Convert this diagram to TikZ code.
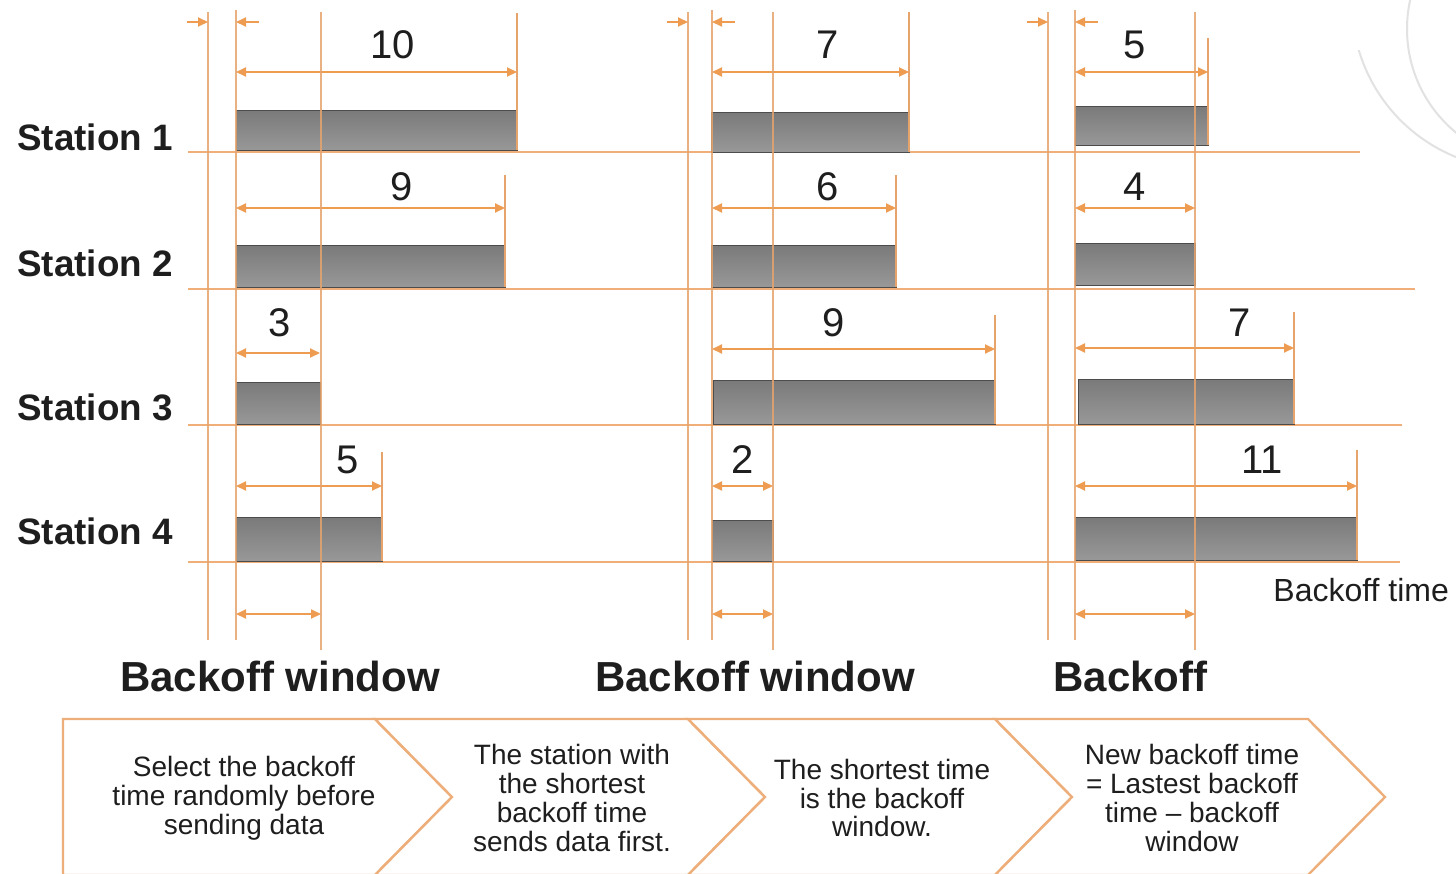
\documentclass[tikz,border=0pt]{standalone}
\usepackage{fontspec}
\setmainfont{Liberation Sans}
\usetikzlibrary{arrows.meta}
\definecolor{lineor}{HTML}{E6A36C}
\definecolor{hor}{HTML}{F0AE78}
\definecolor{dimor}{HTML}{EE9C52}
\definecolor{bartop}{HTML}{7A7A7A}
\definecolor{barbot}{HTML}{989898}
\definecolor{chevor}{HTML}{EDAE7A}
\definecolor{arcgray}{HTML}{E2E2E2}
\definecolor{txt}{HTML}{1E1E1E}
\tikzset{
  vline/.style={draw=lineor, line width=1.1pt},
  hline/.style={draw=hor, line width=1.1pt},
  dimarrow/.style={draw=dimor, line width=1pt, {Triangle[length=5pt,width=4.5pt]}-{Triangle[length=5pt,width=4.5pt]}},
  tinyarrow/.style={draw=dimor, line width=1pt, -{Triangle[length=5pt,width=4.5pt]}},
  databar/.style={top color=bartop, bottom color=barbot, draw=gray!60!black, line width=0.3pt},
  numlabel/.style={font=\fontsize{20}{24}\selectfont, inner sep=0pt, text=txt},
  stationlabel/.style={font=\fontsize{18.4}{22}\selectfont\bfseries, anchor=west, inner sep=0pt, text=txt},
  windowlabel/.style={font=\fontsize{21}{25}\selectfont\bfseries, inner sep=0pt, text=txt},
  timelabel/.style={font=\fontsize{16}{19}\selectfont, anchor=west, inner sep=0pt, text=txt},
  chevron/.style={draw=chevor, line width=1.2pt, fill=white},
  chevtext/.style={font=\fontsize{14}{14.4}\selectfont, align=center, inner sep=0pt, text=txt},
  faintarc/.style={draw=arcgray, line width=1pt},
}
\begin{document}
\begin{tikzpicture}[x=0.5pt,y=-0.5pt]
\useasboundingbox (0,0) rectangle (1456,873);
\clip (0,0) rectangle (1456,873);
\fill[white] (0,0) rectangle (1456,873);

% faint decorative arcs (top right)
\begin{scope}
  \clip (1340,50) rectangle (1456,873);
  \draw[faintarc] (1518,3) circle[radius=166];
\end{scope}
\begin{scope}
  \clip (1340,0) rectangle (1456,873);
  \draw[faintarc] (1541,29) circle[radius=134];
\end{scope}

% station time lines
\draw[hline] (188,152) -- (1360,152);
\draw[hline] (188,289) -- (1415,289);
\draw[hline] (188,425) -- (1402,425);
\draw[hline] (188,562) -- (1400,562);

% bars, extent lines, dimension arrows, numbers
% xa(bar start)/xs(arrow start)/xb(end)/ytop/ybot/yarrow/label/lx/ly/extent-top
\foreach \xa/\xs/\xb/\yt/\yb/\ya/\lab/\lx/\ly/\et [count=\i] in {
  236/236/517/110/150/72/10/393/45/13,
  711/712/909/112/152/72/7/828/45/12,
  1075/1075/1208/106/145/72/5/1135/45/38,
  236/236/505/245/287/208/9/402/187/175,
  711/712/896/245/287/208/6/828/187/175,
  1075/1075/1195/243/285/208/4/1135/187/0,
  236/236/320/382/424/353/3/280/323/0,
  713/712/995/380/424/349/9/834/323/315,
  1078/1075/1294/379/424/348/7/1240/323/312,
  236/236/382/517/561/486/5/348/460/452,
  712/712/773/520/561/486/2/743/460/0,
  1075/1075/1357/517/560/486/11/1262/460/450} {
  \path[databar] (\xa,\yt) rectangle (\xb,\yb);
  \ifnum\et>0 \draw[vline] (\xb,\et) -- (\xb,\yb); \fi
  \coordinate (as\i) at (\xs,\ya);
  \coordinate (ae\i) at (\xb,\ya);
  \draw[dimarrow] (as\i) -- (ae\i);
  \node[numlabel] (num\i) at (\lx,\ly) {\lab};
}

% group vertical lines, small top arrows, bottom window arrows
\foreach \ga/\gb/\gc [count=\j] in {208/236/321, 688/712/773, 1048/1075/1195} {
  \draw[vline, draw opacity=0.85] (\ga,12) -- (\ga,640);
  \draw[vline, draw opacity=0.85] (\gb,10) -- (\gb,640);
  \draw[vline, draw opacity=0.85] (\gc,12) -- (\gc,650);
  \coordinate (ta\j) at (\ga-21,22);
  \coordinate (tb\j) at (\ga,22);
  \coordinate (tc\j) at (\gb+23,22);
  \coordinate (td\j) at (\gb,22);
  \draw[tinyarrow] (ta\j) -- (tb\j);
  \draw[tinyarrow] (tc\j) -- (td\j);
  \coordinate (wa\j) at (\gb,614);
  \coordinate (wb\j) at (\gc,614);
  \draw[dimarrow] (wa\j) -- (wb\j);
}

% station labels
\node[stationlabel] (st1) at (17,137) {Station 1};
\node[stationlabel] (st2) at (17,263) {Station 2};
\node[stationlabel] (st3) at (17,407) {Station 3};
\node[stationlabel] (st4) at (17,531) {Station 4};

% axis label
\node[timelabel] (bt) at (1273,590) {Backoff time};

% window labels
\node[windowlabel] (bw1) at (280,676) {Backoff window};
\node[windowlabel] (bw2) at (755,676) {Backoff window};
\node[windowlabel, anchor=west] (bw3) at (1053,676) {Backoff};

% process chevrons
\draw[chevron] (63,719) -- (375,719) -- (452,797) -- (375,875) -- (63,875) -- cycle;
\draw[chevron] (375,719) -- (688,719) -- (765,797) -- (688,875) -- (375,875) -- (452,797) -- cycle;
\draw[chevron] (688,719) -- (995,719) -- (1072,797) -- (995,875) -- (688,875) -- (765,797) -- cycle;
\draw[chevron] (995,719) -- (1308,719) -- (1385,797) -- (1308,875) -- (995,875) -- (1072,797) -- cycle;

\node[chevtext] (c1) at (244,798) {Select the backoff\\time randomly before\\sending data};
\node[chevtext] (c2) at (572,798) {The station with\\the shortest\\backoff time\\sends data first.};
\node[chevtext] (c3) at (882,798) {The shortest time\\is the backoff\\window.};
\node[chevtext] (c4) at (1192,798) {New backoff time\\= Lastest backoff\\time -- backoff\\window};
\end{tikzpicture}
\end{document}
